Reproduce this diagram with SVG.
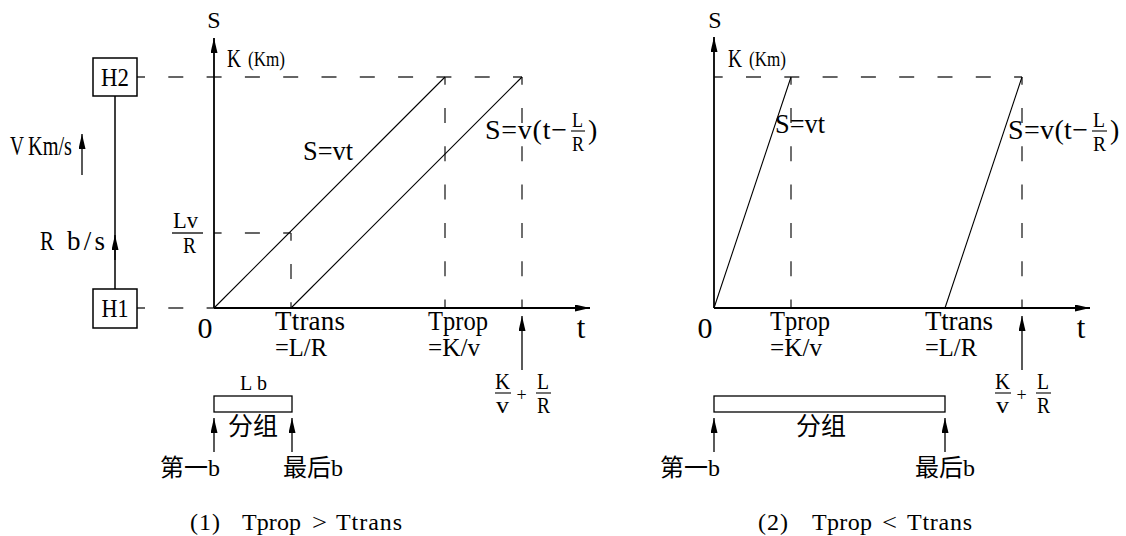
<svg xmlns="http://www.w3.org/2000/svg" width="1126" height="536" viewBox="0 0 1126 536">
<defs>
<marker id="ah" markerUnits="userSpaceOnUse" markerWidth="16" markerHeight="8" refX="15" refY="3.5" orient="auto">
<path d="M0,0 L15,3.5 L0,7 z" fill="#000"/>
</marker>
<style>
.ax{stroke:#000;stroke-width:1.8;fill:none}
.ln{stroke:#000;stroke-width:1.1;fill:none}
.dash{stroke:#333;stroke-width:1.4;fill:none;stroke-dasharray:15 23.3}
.box{stroke:#000;stroke-width:1.5;fill:#fff}
.arr{stroke:#000;stroke-width:1.3;fill:none;marker-end:url(#ah)}
.t{font-family:"Liberation Serif","Times New Roman","DejaVu Serif",serif;fill:#000}
.cjk{font-family:"Noto Sans CJK SC","Noto Sans CJK JP",sans-serif;fill:#000}
</style>
</defs>
<rect width="1126" height="536" fill="#fff"/>

<g id="connectors">
<line class="dash" x1="130" y1="77" x2="522" y2="77"/>
<line class="dash" x1="130" y1="308" x2="214" y2="308"/>
<line class="dash" x1="214" y1="233" x2="291" y2="233" stroke-dashoffset="7.4"/>
<line class="dash" x1="291" y1="233" x2="291" y2="308" stroke-dashoffset="7.3"/>
<line class="dash" x1="445" y1="77" x2="445" y2="308" stroke-dashoffset="7.3"/>
<line class="dash" x1="522" y1="77" x2="522" y2="308" stroke-dashoffset="7.3"/>
<line class="ln" x1="115" y1="96" x2="115" y2="289" style="stroke-width:1.5"/>
<line class="arr" x1="115" y1="260" x2="115" y2="235"/>
<line class="arr" x1="82" y1="175" x2="82" y2="134"/>
<line class="ax" x1="214" y1="308" x2="214" y2="38" marker-end="url(#ah)"/>
<line class="ax" x1="214" y1="308" x2="590" y2="308" marker-end="url(#ah)"/>
<line class="ln" x1="214" y1="308" x2="445" y2="77"/>
<line class="ln" x1="291" y1="308" x2="522" y2="77"/>
<line class="arr" x1="522" y1="370" x2="522" y2="316"/>
<line class="arr" x1="214" y1="452" x2="214" y2="418"/>
<line class="arr" x1="292" y1="452" x2="292" y2="418"/>

<line class="dash" x1="714" y1="77" x2="1022" y2="77" stroke-dashoffset="6.3"/>
<line class="dash" x1="791" y1="77" x2="791" y2="308" stroke-dashoffset="7.3"/>
<line class="dash" x1="1022" y1="77" x2="1022" y2="308" stroke-dashoffset="7.3"/>
<line class="ax" x1="714" y1="308" x2="714" y2="37" marker-end="url(#ah)"/>
<line class="ax" x1="714" y1="308" x2="1090" y2="308" marker-end="url(#ah)"/>
<line class="ln" x1="714" y1="308" x2="791" y2="77"/>
<line class="ln" x1="945" y1="308" x2="1022" y2="77"/>
<line class="arr" x1="1022" y1="370" x2="1022" y2="316"/>
<line class="arr" x1="714" y1="452" x2="714" y2="418"/>
<line class="arr" x1="945" y1="452" x2="945" y2="418"/>
</g>

<g id="H2">
<rect class="box" x="93" y="58" width="44" height="38"/>
<text class="t" x="115" y="86" font-size="26" text-anchor="middle" textLength="28" lengthAdjust="spacingAndGlyphs">H2</text>
</g>
<g id="H1">
<rect class="box" x="93" y="289" width="44" height="39"/>
<text class="t" x="115" y="317" font-size="26" text-anchor="middle" textLength="27" lengthAdjust="spacingAndGlyphs">H1</text>
</g>

<g id="left-labels">
<text class="t" x="214" y="28" font-size="24" text-anchor="middle">S</text>
<text class="t" x="227" y="67" font-size="25" textLength="14" lengthAdjust="spacingAndGlyphs">K</text>
<text class="t" x="248" y="66" font-size="21" textLength="37" lengthAdjust="spacingAndGlyphs">(Km)</text>
<text class="t" x="10" y="155" font-size="28" textLength="14" lengthAdjust="spacingAndGlyphs">V</text>
<text class="t" x="28" y="155" font-size="27" textLength="44" lengthAdjust="spacingAndGlyphs">Km/s</text>
<text class="t" x="40" y="250" font-size="27" textLength="14" lengthAdjust="spacingAndGlyphs">R</text>
<text class="t" x="67" y="250" font-size="27" textLength="38" lengthAdjust="spacing">b/s</text>
<text class="t" x="173" y="228" font-size="24" textLength="25" lengthAdjust="spacingAndGlyphs">Lv</text>
<line class="ln" x1="172" y1="233" x2="203" y2="233" style="stroke-width:1.3"/>
<text class="t" x="183" y="253" font-size="24" textLength="13" lengthAdjust="spacingAndGlyphs">R</text>
<text class="t" x="303" y="160" font-size="28" textLength="50" lengthAdjust="spacingAndGlyphs">S=vt</text>
<text class="t" x="485" y="139" font-size="28" textLength="82" lengthAdjust="spacing">S=v(t−</text>
<text class="t" x="572" y="127" font-size="20" textLength="11" lengthAdjust="spacingAndGlyphs">L</text>
<line class="ln" x1="571" y1="131" x2="585" y2="131"/>
<text class="t" x="572" y="151" font-size="20" textLength="12" lengthAdjust="spacingAndGlyphs">R</text>
<text class="t" x="588" y="139" font-size="28">)</text>
<text class="t" x="205" y="338" font-size="30" text-anchor="middle">0</text>
<text class="t" x="275" y="330" font-size="27" textLength="70" lengthAdjust="spacing">Ttrans</text>
<text class="t" x="275" y="356" font-size="25" textLength="52" lengthAdjust="spacingAndGlyphs">=L/R</text>
<text class="t" x="428" y="330" font-size="27" textLength="60" lengthAdjust="spacingAndGlyphs">Tprop</text>
<text class="t" x="428" y="356" font-size="25" textLength="52" lengthAdjust="spacingAndGlyphs">=K/v</text>
<text class="t" x="581" y="338" font-size="31" text-anchor="middle">t</text>
<text class="t" x="495" y="389" font-size="23" textLength="15" lengthAdjust="spacingAndGlyphs">K</text>
<line class="ln" x1="495" y1="393" x2="511" y2="393"/>
<text class="t" x="496" y="413" font-size="23" textLength="13" lengthAdjust="spacingAndGlyphs">v</text>
<text class="t" x="521.5" y="401" font-size="18" text-anchor="middle">+</text>
<text class="t" x="537" y="389" font-size="23" textLength="12" lengthAdjust="spacingAndGlyphs">L</text>
<line class="ln" x1="536" y1="393" x2="551" y2="393"/>
<text class="t" x="537" y="413" font-size="23" textLength="13" lengthAdjust="spacingAndGlyphs">R</text>
</g>

<g id="packet-1">
<text class="t" x="240" y="390" font-size="20" textLength="27" lengthAdjust="spacing">Lb</text>
<rect class="box" x="214" y="396" width="78" height="16" style="stroke-width:1.3"/>
<text class="cjk" x="253" y="435" font-size="25" text-anchor="middle">分组</text>
<text x="160" y="476" font-size="24"><tspan class="cjk">第一</tspan><tspan class="t">b</tspan></text>
<text x="283" y="476" font-size="24"><tspan class="cjk">最后</tspan><tspan class="t">b</tspan></text>
</g>
<g id="caption-1">
<text class="t" x="190" y="530" font-size="24" textLength="30" lengthAdjust="spacing">(1)</text>
<text class="t" x="242" y="530" font-size="24" textLength="59" lengthAdjust="spacing">Tprop</text>
<text class="t" x="312" y="530" font-size="24" textLength="15" lengthAdjust="spacingAndGlyphs">&gt;</text>
<text class="t" x="336" y="530" font-size="24" textLength="66" lengthAdjust="spacing">Ttrans</text>
</g>

<g id="right-labels">
<text class="t" x="715" y="28" font-size="24" text-anchor="middle">S</text>
<text class="t" x="728" y="67" font-size="25" textLength="14" lengthAdjust="spacingAndGlyphs">K</text>
<text class="t" x="749" y="66" font-size="21" textLength="37" lengthAdjust="spacingAndGlyphs">(Km)</text>
<text class="t" x="775" y="133" font-size="28" textLength="50" lengthAdjust="spacingAndGlyphs">S=vt</text>
<text class="t" x="1008" y="139" font-size="28" textLength="80" lengthAdjust="spacing">S=v(t−</text>
<text class="t" x="1093" y="127" font-size="20" textLength="12" lengthAdjust="spacingAndGlyphs">L</text>
<line class="ln" x1="1092" y1="131" x2="1107" y2="131"/>
<text class="t" x="1093" y="151" font-size="20" textLength="13" lengthAdjust="spacingAndGlyphs">R</text>
<text class="t" x="1110" y="139" font-size="28">)</text>
<text class="t" x="705" y="338" font-size="30" text-anchor="middle">0</text>
<text class="t" x="770" y="330" font-size="27" textLength="60" lengthAdjust="spacingAndGlyphs">Tprop</text>
<text class="t" x="770" y="356" font-size="25" textLength="52" lengthAdjust="spacingAndGlyphs">=K/v</text>
<text class="t" x="925" y="330" font-size="27" textLength="68" lengthAdjust="spacing">Ttrans</text>
<text class="t" x="925" y="356" font-size="25" textLength="52" lengthAdjust="spacingAndGlyphs">=L/R</text>
<text class="t" x="1081" y="338" font-size="31" text-anchor="middle">t</text>
<text class="t" x="995" y="389" font-size="23" textLength="15" lengthAdjust="spacingAndGlyphs">K</text>
<line class="ln" x1="995" y1="393" x2="1011" y2="393"/>
<text class="t" x="996" y="413" font-size="23" textLength="13" lengthAdjust="spacingAndGlyphs">v</text>
<text class="t" x="1021.5" y="401" font-size="18" text-anchor="middle">+</text>
<text class="t" x="1037" y="389" font-size="23" textLength="12" lengthAdjust="spacingAndGlyphs">L</text>
<line class="ln" x1="1036" y1="393" x2="1051" y2="393"/>
<text class="t" x="1037" y="413" font-size="23" textLength="13" lengthAdjust="spacingAndGlyphs">R</text>
</g>

<g id="packet-2">
<rect class="box" x="714" y="396" width="231" height="16" style="stroke-width:1.3"/>
<text class="cjk" x="821" y="435" font-size="25" text-anchor="middle">分组</text>
<text x="660" y="476" font-size="24"><tspan class="cjk">第一</tspan><tspan class="t">b</tspan></text>
<text x="915" y="476" font-size="24"><tspan class="cjk">最后</tspan><tspan class="t">b</tspan></text>
</g>
<g id="caption-2">
<text class="t" x="758" y="530" font-size="24" textLength="30" lengthAdjust="spacing">(2)</text>
<text class="t" x="812" y="530" font-size="24" textLength="60" lengthAdjust="spacing">Tprop</text>
<text class="t" x="882" y="530" font-size="24" textLength="15" lengthAdjust="spacingAndGlyphs">&lt;</text>
<text class="t" x="907" y="530" font-size="24" textLength="65" lengthAdjust="spacing">Ttrans</text>
</g>
</svg>
